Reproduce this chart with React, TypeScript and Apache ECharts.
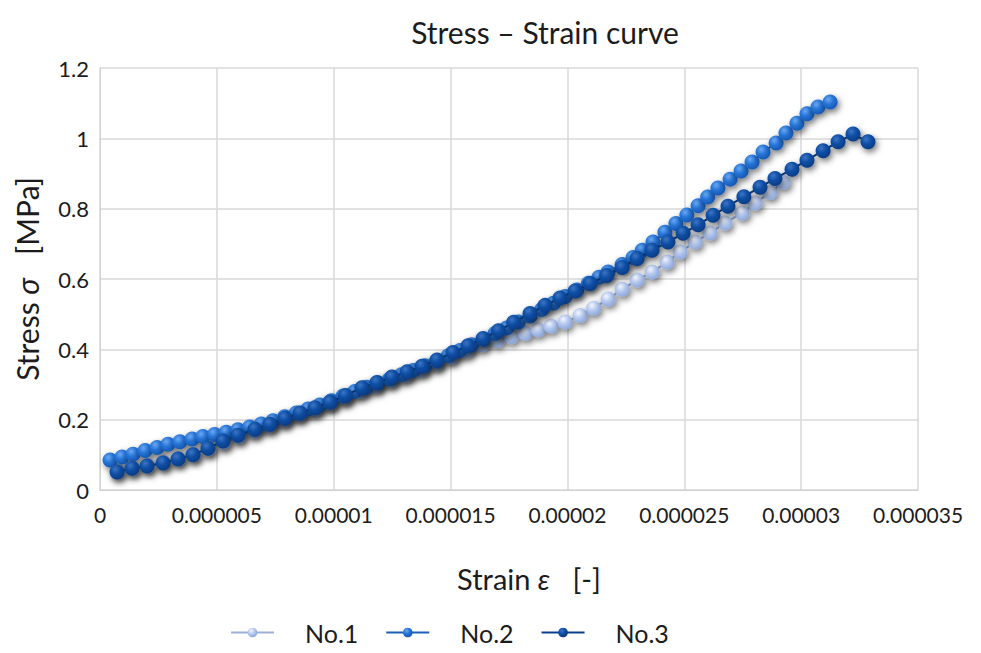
import React, { useEffect, useRef } from "react";
import * as echarts from "echarts";

// Strain in units of 1e-6 [-], stress in MPa
const no1: [number, number][] = [
  [0.75, 0.055], [1.40, 0.062], [2.05, 0.070], [2.70, 0.079], [3.35, 0.089],
  [4.00, 0.101], [4.65, 0.117], [5.30, 0.135], [5.95, 0.152], [6.60, 0.168],
  [7.25, 0.182], [7.90, 0.198], [8.55, 0.214], [9.20, 0.229], [9.85, 0.245],
  [10.50, 0.262], [11.15, 0.280], [11.80, 0.296], [12.45, 0.311], [13.10, 0.326],
  [13.75, 0.342], [14.40, 0.359], [15.05, 0.378], [15.70, 0.396], [16.35, 0.413],
  [17.00, 0.425], [17.60, 0.436], [18.20, 0.446], [18.75, 0.456], [19.30, 0.466],
  [19.90, 0.478], [20.54, 0.496], [21.12, 0.517], [21.74, 0.543], [22.34, 0.571],
  [22.98, 0.597], [23.62, 0.620], [24.26, 0.648], [24.82, 0.677], [25.46, 0.705],
  [26.10, 0.731], [26.74, 0.759], [27.47, 0.788], [28.03, 0.816], [28.67, 0.846],
  [29.23, 0.875],
];

const no2: [number, number][] = [
  [0.43, 0.085], [0.94, 0.094], [1.41, 0.102], [1.93, 0.112], [2.44, 0.121],
  [2.91, 0.130], [3.42, 0.137], [3.94, 0.145], [4.40, 0.152], [4.90, 0.158],
  [5.40, 0.164], [5.90, 0.171], [6.40, 0.179], [6.90, 0.188], [7.40, 0.197],
  [7.90, 0.208], [8.40, 0.219], [8.90, 0.230], [9.40, 0.242], [9.90, 0.254],
  [10.40, 0.267], [10.90, 0.280], [11.40, 0.292], [11.90, 0.304], [12.40, 0.316],
  [12.90, 0.328], [13.40, 0.340], [13.90, 0.353], [14.40, 0.367], [14.90, 0.382],
  [15.40, 0.397], [15.90, 0.413], [16.40, 0.429], [16.90, 0.445], [17.40, 0.461],
  [17.90, 0.478], [18.40, 0.495], [18.90, 0.513], [19.40, 0.531], [19.90, 0.550],
  [20.40, 0.569], [20.90, 0.588], [21.35, 0.605], [21.74, 0.620], [22.34, 0.641],
  [22.81, 0.661], [23.20, 0.682], [23.66, 0.705], [24.17, 0.733], [24.64, 0.758],
  [25.11, 0.782], [25.59, 0.808], [26.00, 0.833], [26.44, 0.859], [26.96, 0.884],
  [27.43, 0.907], [27.90, 0.933], [28.37, 0.961], [28.93, 0.987], [29.35, 1.015],
  [29.82, 1.043], [30.25, 1.070], [30.72, 1.089], [31.24, 1.103],
];

const no3: [number, number][] = [
  [0.73, 0.051], [1.37, 0.062], [2.01, 0.068], [2.70, 0.077], [3.34, 0.088],
  [3.98, 0.100], [4.62, 0.119], [5.26, 0.139], [5.90, 0.156], [6.63, 0.173],
  [7.27, 0.187], [7.92, 0.204], [8.56, 0.219], [9.20, 0.234], [9.84, 0.250],
  [10.50, 0.269], [11.21, 0.291], [11.85, 0.306], [12.49, 0.321], [13.14, 0.336],
  [13.78, 0.352], [14.42, 0.370], [15.10, 0.391], [15.75, 0.410], [16.39, 0.431],
  [17.05, 0.453], [17.70, 0.477], [18.40, 0.502], [19.04, 0.525], [19.68, 0.546],
  [20.33, 0.566], [20.97, 0.587], [21.68, 0.610], [22.34, 0.633], [22.98, 0.658],
  [23.62, 0.682], [24.30, 0.705], [24.95, 0.730], [25.59, 0.754], [26.23, 0.781],
  [26.87, 0.807], [27.55, 0.834], [28.24, 0.861], [28.88, 0.886], [29.61, 0.912],
  [30.25, 0.938], [30.94, 0.965], [31.58, 0.990], [32.22, 1.012], [32.86, 0.990],
];

const seriesNames = ["No.1", "No.2", "No.3"];
const xTicks = { min: 0, max: 0.000035, interval: 0.000005 };
const yTicks = { min: 0, max: 1.2, interval: 0.2 };

const FONT = "Lato, 'Open Sans', sans-serif";
const INK = "#1c1c1c";

const palettes = [
  { hi: "#f4f7fe", mid: "#b6c9ef", edge: "#8fa9db", line: "#9ab0da" },
  { hi: "#6aa8f4", mid: "#2674d6", edge: "#1759b4", line: "#1a5fb8" },
  { hi: "#3e74c4", mid: "#0d4ea4", edge: "#083c84", line: "#0a3f8a" },
];

function ball(p: { hi: string; mid: string; edge: string }) {
  return new echarts.graphic.RadialGradient(0.38, 0.32, 0.68, [
    { offset: 0, color: p.hi },
    { offset: 0.5, color: p.mid },
    { offset: 1, color: p.edge },
  ]);
}

export default function App() {
  const ref = useRef<HTMLDivElement>(null);

  useEffect(() => {
    document.body.style.margin = "0";
    if (!ref.current) return;
    const chart = echarts.init(ref.current, null, { renderer: "svg" });

    const sets = [no1, no2, no3];
    const series = sets.map((pts, i) => ({
      name: seriesNames[i],
      type: "line" as const,
      data: pts.map(([e, s]) => [e * 1e-6, s]),
      symbol: "circle",
      symbolSize: 15,
      showSymbol: true,
      lineStyle: { color: palettes[i].line, width: 2 },
      itemStyle: {
        color: ball(palettes[i]),
        shadowBlur: 6,
        shadowColor: "rgba(0,0,0,0.55)",
        shadowOffsetX: 2,
        shadowOffsetY: 3,
      },
      z: 2 + i,
    }));

    const richItalic = (size: number) => ({
      i: { fontFamily: FONT, fontSize: size, fontStyle: "italic", color: INK },
    });

    chart.setOption({
      animation: false,
      backgroundColor: "#ffffff",
      textStyle: { fontFamily: FONT },
      title: {
        text: "Stress \u2013 Strain curve",
        left: 540,
        top: 12,
        textAlign: "center",
        textStyle: { fontFamily: FONT, fontSize: 30, fontWeight: "normal", color: INK },
      },
      grid: { left: 100, right: 63, top: 68, bottom: 163, containLabel: false },
      xAxis: {
        type: "value",
        min: xTicks.min,
        max: xTicks.max,
        interval: xTicks.interval,
        name: "Strain {i|\u03b5}   [-]",
        nameLocation: "middle",
        nameGap: 74,
        nameTextStyle: {
          fontFamily: FONT,
          fontSize: 29,
          color: INK,
          padding: [0, 0, 0, 40],
          rich: richItalic(29),
        },
        axisLine: { show: true, lineStyle: { color: "#d0d0d0", width: 1 } },
        axisTick: { show: false },
        axisLabel: {
          fontFamily: FONT,
          fontSize: 21,
          color: INK,
          margin: 14,
          formatter: (v: number) => (v === 0 ? "0" : v.toFixed(6).replace(/0+$/, "")),
        },
        splitLine: { show: true, lineStyle: { color: "#d9d9d9", width: 1.5 } },
      },
      yAxis: {
        type: "value",
        min: yTicks.min,
        max: yTicks.max,
        interval: yTicks.interval,
        name: "Stress {i|\u03c3}   [MPa]",
        nameLocation: "middle",
        nameGap: 58,
        nameTextStyle: { fontFamily: FONT, fontSize: 30, color: INK, rich: richItalic(30) },
        axisLine: { show: true, lineStyle: { color: "#d0d0d0", width: 1 } },
        axisTick: { show: false },
        axisLabel: { fontFamily: FONT, fontSize: 22, color: INK, margin: 11 },
        splitLine: { show: true, lineStyle: { color: "#d9d9d9", width: 1.5 } },
      },
      legend: {
        data: seriesNames,
        left: 225,
        bottom: 3,
        itemWidth: 43,
        itemHeight: 12,
        itemGap: 27,
        textStyle: { fontFamily: FONT, fontSize: 25, color: INK, padding: [0, 0, 0, 26] },
      },
      series,
    });

    return () => chart.dispose();
  }, []);

  return <div ref={ref} style={{ width: 981, height: 653 }} />;
}
